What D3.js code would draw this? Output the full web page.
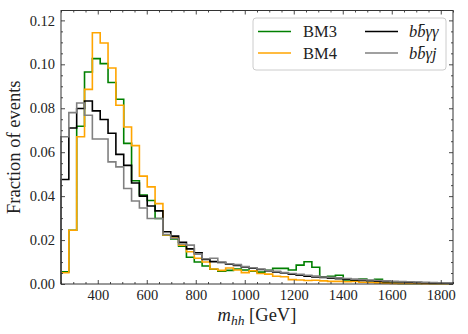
<!DOCTYPE html>
<html>
<head>
<meta charset="utf-8">
<script src="https://cdn.jsdelivr.net/npm/d3@7"></script>
<style>
  body { margin: 0; background: #fff; }
  svg { font-family: "Liberation Serif", "DejaVu Serif", serif; }
  .axis path { display: none; }
  .axis line { stroke: #333; stroke-width: 0.9; }
  .axis text { font-size: 14.5px; fill: #222; font-family: "Liberation Serif", serif; }
  .hist { fill: none; stroke-width: 1.6; stroke-linejoin: miter; }
</style>
</head>
<body>
<svg width="468" height="334"></svg>
<script>
// bin edges: 50 bins of 32 GeV from 250 to 1850
var binStart = 250, binWidth = 32, nBins = 50;

var bm3 = [0.0055, 0.0245, 0.0718, 0.0965, 0.1026, 0.1003, 0.0917, 0.0841, 0.0640, 0.0470,
           0.0405, 0.0380, 0.0298, 0.0222, 0.0205, 0.0172, 0.0122, 0.0100, 0.0082, 0.0067,
           0.0058, 0.0062, 0.0068, 0.0064, 0.0058, 0.0054, 0.0062, 0.0071, 0.0071, 0.0064,
           0.0086, 0.0101, 0.0076, 0.0033, 0.0035, 0.0040, 0.0018, 0.0016, 0.0023, 0.0016,
           0.0021, 0.0005, 0.0004, 0.0003, 0.0003, 0.0002, 0.0004, 0.0002, 0.0002, 0.0002];

var bm4 = [0.0051, 0.0245, 0.0670, 0.0886, 0.1144, 0.1097, 0.0983, 0.0814, 0.0715, 0.0630,
           0.0491, 0.0442, 0.0366, 0.0223, 0.0210, 0.0177, 0.0147, 0.0117, 0.0100, 0.0068,
           0.0062, 0.0073, 0.0064, 0.0052, 0.0060, 0.0048, 0.0045, 0.0035, 0.0033, 0.0020,
           0.0018, 0.0016, 0.0017, 0.0014, 0.0012, 0.0012, 0.0010, 0.0012, 0.0008, 0.0007,
           0.0005, 0.0004, 0.0003, 0.0003, 0.0002, 0.0002, 0.0001, 0.0001, 0.0001, 0.0001];

var bbaa = [0.0476, 0.0710, 0.0799, 0.0833, 0.0788, 0.0749, 0.0686, 0.0590, 0.0540, 0.0460,
            0.0400, 0.0355, 0.0333, 0.0238, 0.0218, 0.0190, 0.0160, 0.0142, 0.0112, 0.0102,
            0.0098, 0.0090, 0.0085, 0.0078, 0.0072, 0.0066, 0.0060, 0.0055, 0.0050, 0.0045,
            0.0040, 0.0035, 0.0032, 0.0030, 0.0026, 0.0024, 0.0022, 0.0018, 0.0016, 0.0015,
            0.0013, 0.0011, 0.0010, 0.0009, 0.0008, 0.0007, 0.0006, 0.0005, 0.0005, 0.0004];

var bbaj = [0.0670, 0.0780, 0.0824, 0.0768, 0.0660, 0.0660, 0.0556, 0.0533, 0.0435, 0.0378,
            0.0346, 0.0298, 0.0298, 0.0225, 0.0208, 0.0182, 0.0177, 0.0136, 0.0115, 0.0117,
            0.0100, 0.0092, 0.0088, 0.0080, 0.0074, 0.0068, 0.0062, 0.0058, 0.0052, 0.0048,
            0.0044, 0.0040, 0.0036, 0.0032, 0.0030, 0.0028, 0.0025, 0.0022, 0.0020, 0.0018,
            0.0016, 0.0014, 0.0012, 0.0011, 0.0010, 0.0009, 0.0008, 0.0007, 0.0006, 0.0005];

var seriesNames = ["BM3", "BM4", "bb\u0304\u03b3\u03b3", "bb\u0304\u03b3j"];
var seriesColors = ["green", "orange", "black", "gray"];
var seriesData = [bm3, bm4, bbaa, bbaj];

var xTicks = [400, 600, 800, 1000, 1200, 1400, 1600, 1800];
var yTicks = [0, 0.02, 0.04, 0.06, 0.08, 0.10, 0.12];

var svg = d3.select("svg"),
    margin = {top: 10.5, right: 15, bottom: 50, left: 61},
    width = +svg.attr("width") - margin.left - margin.right,
    height = +svg.attr("height") - margin.top - margin.bottom;

var x = d3.scaleLinear().domain([250, 1850]).range([0, width]),
    y = d3.scaleLinear().domain([0, 0.1245]).range([height, 0]);

var g = svg.append("g")
    .attr("transform", "translate(" + margin.left + "," + margin.top + ")");

// step outline like matplotlib histtype='step'
function stepPoints(vals) {
  var pts = [[binStart, 0]];
  vals.forEach(function(v, i) {
    pts.push([binStart + i * binWidth, v]);
    pts.push([binStart + (i + 1) * binWidth, v]);
  });
  pts.push([binStart + nBins * binWidth, 0]);
  return pts;
}

var line = d3.line()
    .x(function(d) { return x(d[0]); })
    .y(function(d) { return y(d[1]); });

seriesData.forEach(function(vals, i) {
  g.append("path")
      .datum(stepPoints(vals))
      .attr("class", "hist")
      .attr("stroke", seriesColors[i])
      .attr("d", line);
});

// minor ticks
var xMinor = d3.range(250, 1851, 50).filter(function(v) { return v % 200 != 0; });
var yMinor = d3.range(0, 25).map(function(i) { return i * 0.005; }).filter(function(v, i) { return i % 4 != 0; });

g.append("g").attr("class", "axis")
    .attr("transform", "translate(0," + height + ")")
    .call(d3.axisBottom(x).tickValues(xTicks).tickSize(-4).tickPadding(6).tickFormat(d3.format("d")));
g.append("g").attr("class", "axis")
    .attr("transform", "translate(0," + height + ")")
    .call(d3.axisBottom(x).tickValues(xMinor).tickSize(-2).tickFormat(""));
g.append("g").attr("class", "axis")
    .call(d3.axisTop(x).tickValues(xTicks).tickSize(-4).tickFormat(""));
g.append("g").attr("class", "axis")
    .call(d3.axisTop(x).tickValues(xMinor).tickSize(-2).tickFormat(""));

g.append("g").attr("class", "axis")
    .call(d3.axisLeft(y).tickValues(yTicks).tickSize(-4).tickPadding(6).tickFormat(d3.format(".2f")));
g.append("g").attr("class", "axis")
    .call(d3.axisLeft(y).tickValues(yMinor).tickSize(-2).tickFormat(""));
g.append("g").attr("class", "axis")
    .attr("transform", "translate(" + width + ",0)")
    .call(d3.axisRight(y).tickValues(yTicks).tickSize(-4).tickFormat(""));
g.append("g").attr("class", "axis")
    .attr("transform", "translate(" + width + ",0)")
    .call(d3.axisRight(y).tickValues(yMinor).tickSize(-2).tickFormat(""));

// frame
g.append("rect")
    .attr("width", width)
    .attr("height", height)
    .attr("fill", "none")
    .attr("stroke", "#333")
    .attr("stroke-width", 1);

// axis labels
svg.append("text")
    .attr("transform", "translate(20," + (margin.top + height / 2) + ") rotate(-90)")
    .attr("text-anchor", "middle")
    .attr("font-size", 18.5)
    .attr("fill", "#222")
    .text("Fraction of events");

var xl = svg.append("text")
    .attr("x", margin.left + width / 2)
    .attr("y", 321)
    .attr("text-anchor", "middle")
    .attr("font-size", 18.5)
    .attr("fill", "#222");
xl.append("tspan").attr("font-style", "italic").text("m");
xl.append("tspan").attr("font-style", "italic").attr("font-size", 13.5).attr("dy", 3.5).text("hh");
xl.append("tspan").attr("dy", -3.5).text(" [GeV]");

// legend
var legend = svg.append("g").attr("transform", "translate(253,18)");
legend.append("rect")
    .attr("width", 193).attr("height", 52)
    .attr("rx", 3)
    .attr("fill", "white").attr("fill-opacity", 0.85)
    .attr("stroke", "#ccc").attr("stroke-width", 1);

var item = legend.selectAll("g.item")
    .data(seriesNames)
    .enter().append("g")
    .attr("class", "item")
    .attr("transform", function(d, i) {
      return "translate(" + (Math.floor(i / 2) * 107 + 5) + "," + (13.5 + (i % 2) * 21.5) + ")";
    });

item.append("line")
    .attr("x1", 0).attr("x2", 33)
    .attr("stroke", function(d, i) { return seriesColors[i]; })
    .attr("stroke-width", 1.6);

item.append("text")
    .attr("x", function(d, i) { return i < 2 ? 45 : 44; })
    .attr("dy", "0.35em")
    .attr("font-size", 16.5)
    .attr("fill", "#222")
    .attr("font-style", function(d, i) { return i < 2 ? "normal" : "italic"; })
    .text(function(d) { return d; });
</script>
</body>
</html>
